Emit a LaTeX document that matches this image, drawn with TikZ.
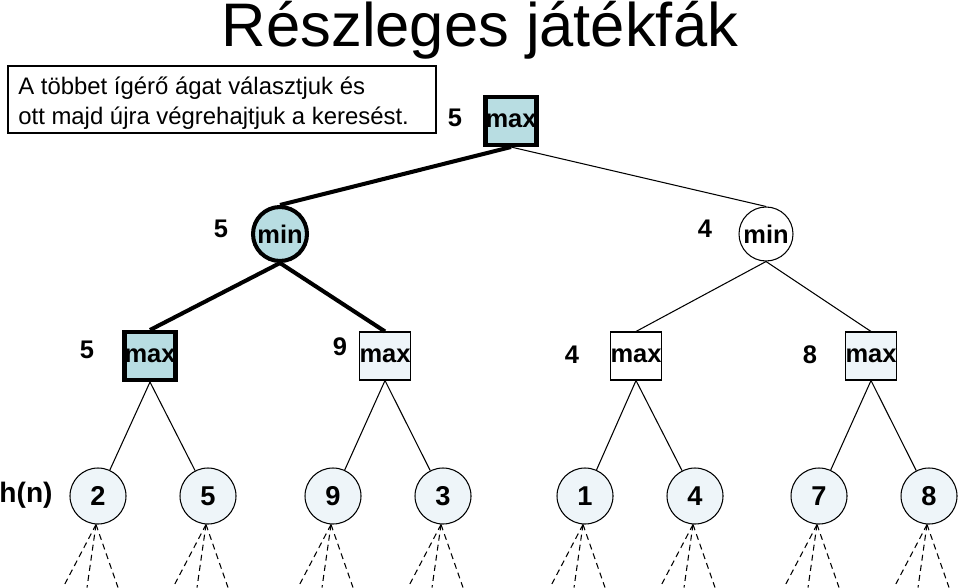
\documentclass[tikz,border=0pt]{standalone}
\usepackage{fontspec}
\setmainfont{Liberation Sans}
\usetikzlibrary{positioning}

\definecolor{hot}{RGB}{184,221,226}
\definecolor{pale}{RGB}{238,245,249}

\begin{document}
\begin{tikzpicture}[
    font=\fontsize{14.5}{17}\selectfont\bfseries,
    maxnode/.style={rectangle,draw,line width=0.6pt,minimum size=0.96cm,inner sep=0pt},
    minnode/.style={circle,draw,line width=0.6pt,minimum size=1.08cm,inner sep=0pt},
    leaf/.style={circle,draw,line width=0.6pt,fill=pale,minimum size=1.12cm,inner sep=0pt,
                 font=\fontsize{15.5}{18}\selectfont\bfseries},
    chosen/.style={line width=2.3pt,fill=hot},
    line/.style={line width=0.6pt},
    bestline/.style={line width=2.3pt},
    unknown/.style={line width=0.6pt,dash pattern=on 3.4pt off 2.4pt},
    notebox/.style={draw,line width=0.6pt,minimum width=8.56cm,minimum height=1.34cm},
    notetext/.style={anchor=base west,inner sep=0pt,font=\fontsize{13.6}{17}\selectfont}
]
\useasboundingbox (0,0) rectangle (19.18,11.74);

% Title
\node[anchor=base,font=\fontsize{35}{40}\selectfont] (title) at (9.6,10.80) {Részleges játékfák};

% Note
\node[notebox] (note) at (4.44,9.75) {};
\node[notetext] (note1) at (0.36,9.84) {A többet ígérő ágat választjuk és};
\node[notetext] (note2) at (0.36,9.24) {ott majd újra végrehajtjuk a keresést.};

% Root
\node[maxnode,chosen] (R) at (10.22,9.32) {max};
\node at (9.10,9.38) {5};

% Min level
\node[minnode,chosen] (A) at (5.60,7.06) {min};
\node[minnode] (B) at (15.32,7.06) {min};
\node at (4.42,7.16) {5};
\node at (14.10,7.16) {4};

\draw[bestline] (R.south) -- (A.north);
\draw[line] (R.south) -- (B.north);

% Max level
\node[maxnode,chosen] (A1) at (3.00,4.62) {max};
\node[maxnode,fill=pale] (A2) at (7.70,4.62) {max};
\node[maxnode] (B1) at (12.72,4.62) {max};
\node[maxnode,fill=pale] (B2) at (17.42,4.62) {max};
\node at (1.74,4.74) {5};
\node at (6.80,4.80) {9};
\node at (11.44,4.64) {4};
\node at (16.20,4.64) {8};

\draw[bestline] (A.south) -- (A1.north);
\draw[bestline] (A.south) -- (A2.north);
\draw[line] (B.south) -- (B1.north);
\draw[line] (B.south) -- (B2.north);

% Leaves with h(n)
\node[font=\fontsize{16}{19}\selectfont\bfseries] (h) at (0.52,1.84) {h(n)};
\node[leaf] (l1) at (1.96,1.82) {2};
\node[leaf] (l2) at (4.16,1.82) {5};
\node[leaf] (l3) at (6.66,1.82) {9};
\node[leaf] (l4) at (8.86,1.82) {3};
\node[leaf] (l5) at (11.70,1.82) {1};
\node[leaf] (l6) at (13.90,1.82) {4};
\node[leaf] (l7) at (16.38,1.82) {7};
\node[leaf] (l8) at (18.58,1.82) {8};

\draw[line] (A1.south) -- (l1);
\draw[line] (A1.south) -- (l2);
\draw[line] (A2.south) -- (l3);
\draw[line] (A2.south) -- (l4);
\draw[line] (B1.south) -- (l5);
\draw[line] (B1.south) -- (l6);
\draw[line] (B2.south) -- (l7);
\draw[line] (B2.south) -- (l8);

% Unexplored subtrees
\foreach \i in {1,...,8}
  \foreach \dx in {-0.66,-0.18,0.44}
    \draw[unknown] ([xshift=-0.04cm]l\i.south) -- ++(\dx,-1.26);

\end{tikzpicture}
\end{document}
